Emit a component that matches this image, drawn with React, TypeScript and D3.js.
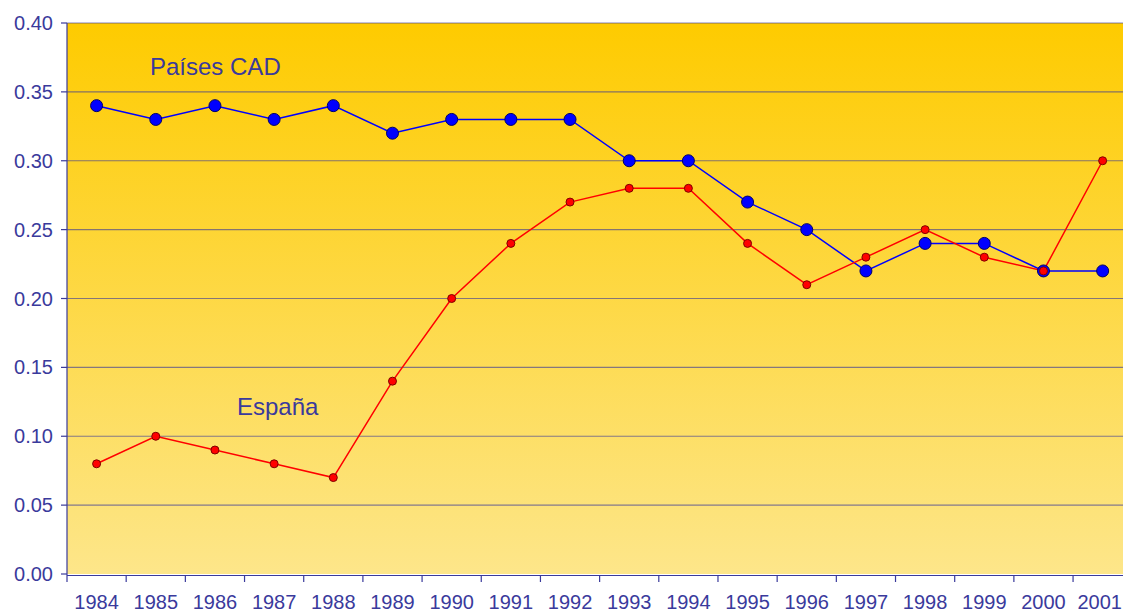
import React from 'react';
import * as d3 from 'd3';

const years = ['1984', '1985', '1986', '1987', '1988', '1989', '1990', '1991', '1992', '1993', '1994', '1995', '1996', '1997', '1998', '1999', '2000', '2001'];
const cadValues = [0.34, 0.33, 0.34, 0.33, 0.34, 0.32, 0.33, 0.33, 0.33, 0.30, 0.30, 0.27, 0.25, 0.22, 0.24, 0.24, 0.22, 0.22];
const espanaValues = [0.08, 0.10, 0.09, 0.08, 0.07, 0.14, 0.20, 0.24, 0.27, 0.28, 0.28, 0.24, 0.21, 0.23, 0.25, 0.23, 0.22, 0.30];
const yTicks = [0, 0.05, 0.1, 0.15, 0.2, 0.25, 0.3, 0.35, 0.4];

const W = 1123;
const H = 613;
const left = 67;
const top = 23;
const bottom = 574;
const band = 59.18;
const navy = '#3a3a9c';
const font = '"Liberation Sans", Arial, sans-serif';

const App = () => {
  const x = d3.scaleBand().domain(years).range([left, left + band * years.length]);
  const y = d3.scaleLinear().domain([0, 0.4]).range([bottom, top]);
  const cx = (yr: string) => (x(yr) as number) + x.bandwidth() / 2;
  const line = d3.line<number>().x((_, i) => cx(years[i])).y((d) => y(d));
  const right = left + band * years.length;

  return (
    <svg width={W} height={H} style={{ position: 'absolute', left: 0, top: 0, background: '#fff' }}>
      <defs>
        <linearGradient id="bg" x1="0" y1="0" x2="0" y2="1">
          <stop offset="0%" stopColor="#fecb00" />
          <stop offset="100%" stopColor="#fde68a" />
        </linearGradient>
      </defs>
      <rect x={left} y={top} width={right - left} height={bottom - top} fill="url(#bg)" />
      {yTicks.slice(1).map((t) => (
        <line key={t} x1={left} x2={right} y1={y(t)} y2={y(t)} stroke="#333399" strokeOpacity={0.6} strokeWidth={1.2} />
      ))}
      {/* axes */}
      <line x1={left} x2={left} y1={top} y2={bottom + 1} stroke={navy} strokeWidth={1.2} />
      <line x1={left} x2={right} y1={bottom + 1.5} y2={bottom + 1.5} stroke={navy} strokeWidth={1.2} />
      {yTicks.map((t) => (
        <g key={t}>
          <line x1={left - 6} x2={left} y1={y(t)} y2={y(t)} stroke={navy} strokeWidth={1.2} />
          <text x={53} y={y(t)} dy="0.35em" textAnchor="end" fontFamily={font} fontSize={20} fill={navy}>
            {t.toFixed(2)}
          </text>
        </g>
      ))}
      {years.map((yr, i) => {
        // last label would run past the picture's edge, so pin it to the edge
        const last = i === years.length - 1;
        return (
          <g key={yr}>
            <line x1={left + i * band} x2={left + i * band} y1={bottom + 1} y2={bottom + 8} stroke={navy} strokeWidth={1.2} />
            <text x={last ? W - 1 : cx(yr)} y={609} textAnchor={last ? 'end' : 'middle'} fontFamily={font} fontSize={20} fill={navy}>
              {yr}
            </text>
          </g>
        );
      })}
      <path d={line(cadValues) || ''} fill="none" stroke="#0000ff" strokeWidth={1.5} />
      <path d={line(espanaValues) || ''} fill="none" stroke="#ff0000" strokeWidth={1.5} />
      {cadValues.map((v, i) => (
        <circle key={'c' + i} cx={cx(years[i])} cy={y(v)} r={6} fill="#0000ff" stroke="#000066" strokeWidth={1} />
      ))}
      {espanaValues.map((v, i) => (
        <circle key={'e' + i} cx={cx(years[i])} cy={y(v)} r={4} fill="#ff0000" stroke="#800000" strokeWidth={1} />
      ))}
      <text x={150} y={75} fontFamily={font} fontSize={24} fill={navy}>Países CAD</text>
      <text x={237} y={415} fontFamily={font} fontSize={24} fill={navy}>España</text>
    </svg>
  );
};

export default App;
